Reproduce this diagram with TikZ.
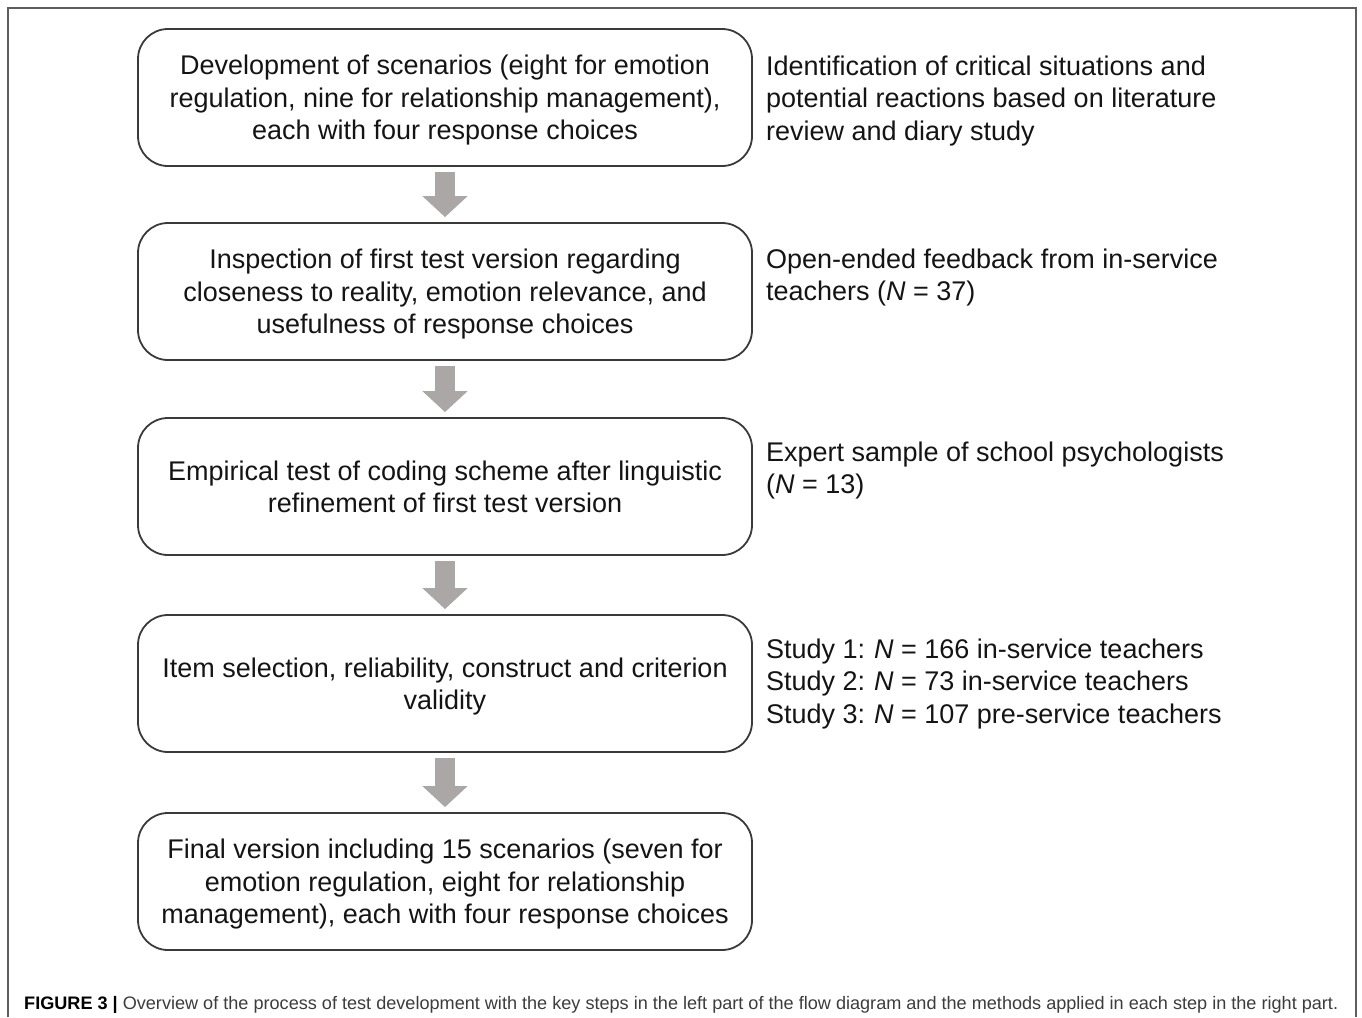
\documentclass[tikz,border=0pt]{standalone}
\usepackage{fontspec}
\setmainfont{Liberation Sans}
\usetikzlibrary{arrows.meta, positioning}

\definecolor{framegray}{HTML}{5E5E5E}
\definecolor{boxline}{HTML}{3A3A3A}
\definecolor{arrowgray}{HTML}{ABA7A7}
\definecolor{capgray}{HTML}{3C3C3C}

\begin{document}
\begin{tikzpicture}[x=1pt,y=-1pt,
    stepbox/.style={draw=boxline, line width=1.8pt, rounded corners=30pt,
        minimum width=614pt, minimum height=137pt, inner sep=0pt, text depth=0pt,
        align=center, text=black!92, font=\fontsize{27}{32.5}\selectfont},
    method/.style={anchor=north west, inner sep=0pt, align=left,
        text=black!92, font=\fontsize{27}{32.5}\selectfont},
    blockarrow/.style={draw=arrowgray, line width=20pt,
        -{Triangle[width=44pt,length=21pt,fill=arrowgray]}}]
    \useasboundingbox (0,0) rectangle (1362,1017);

    % frame
    \draw[framegray, line width=1.5pt] (8,1017) -- (8,8) -- (1356,8) -- (1356,1017);

    % steps
    \node[stepbox] (s1) at (445,97.5) {Development of scenarios (eight for emotion\\regulation, nine for relationship management),\\each with four response choices};
    \node[stepbox] (s2) at (445,291.5) {Inspection of first test version regarding\\closeness to reality, emotion relevance, and\\usefulness of response choices};
    \node[stepbox] (s3) at (445,486.5) {Empirical test of coding scheme after linguistic\\refinement of first test version};
    \node[stepbox] (s4) at (445,683.5) {Item selection, reliability, construct and criterion\\validity};
    \node[stepbox] (s5) at (445,881.5) {Final version including 15 scenarios (seven for\\emotion regulation, eight for relationship\\management), each with four response choices};

    % methods
    \node[method] (m1) at ([xshift=13pt,yshift=-27.4pt]s1.north east) {Identification of critical situations and\\potential reactions based on literature\\review and diary study};
    \node[method] (m2) at ([xshift=13pt,yshift=-26.4pt]s2.north east) {Open-ended feedback from in-service\\teachers (\textit{N} = 37)};
    \node[method] (m3) at ([xshift=13pt,yshift=-24.6pt]s3.north east) {Expert sample of school psychologists\\(\textit{N} = 13)};
    \node[method] (m4) at ([xshift=13pt,yshift=-24.4pt]s4.north east) {Study 1:\hspace{9pt}\textit{N} = 166 in-service teachers\\Study 2:\hspace{9pt}\textit{N} = 73 in-service teachers\\Study 3:\hspace{9pt}\textit{N} = 107 pre-service teachers};

    % arrows
    \draw[blockarrow] ([yshift=-5pt]s1.south) -- ([yshift=5pt]s2.north);
    \draw[blockarrow] ([yshift=-5pt]s2.south) -- ([yshift=5pt]s3.north);
    \draw[blockarrow] ([yshift=-5pt]s3.south) -- ([yshift=5pt]s4.north);
    \draw[blockarrow] ([yshift=-5pt]s4.south) -- ([yshift=5pt]s5.north);

    % caption
    \node[anchor=base west, inner sep=0pt, text=capgray, font=\fontsize{18.1}{21}\selectfont] (cap) at (24,1009) {\textbf{\color{black}FIGURE 3 |} Overview of the process of test development with the key steps in the left part of the flow diagram and the methods applied in each step in the right part.};
\end{tikzpicture}
\end{document}
